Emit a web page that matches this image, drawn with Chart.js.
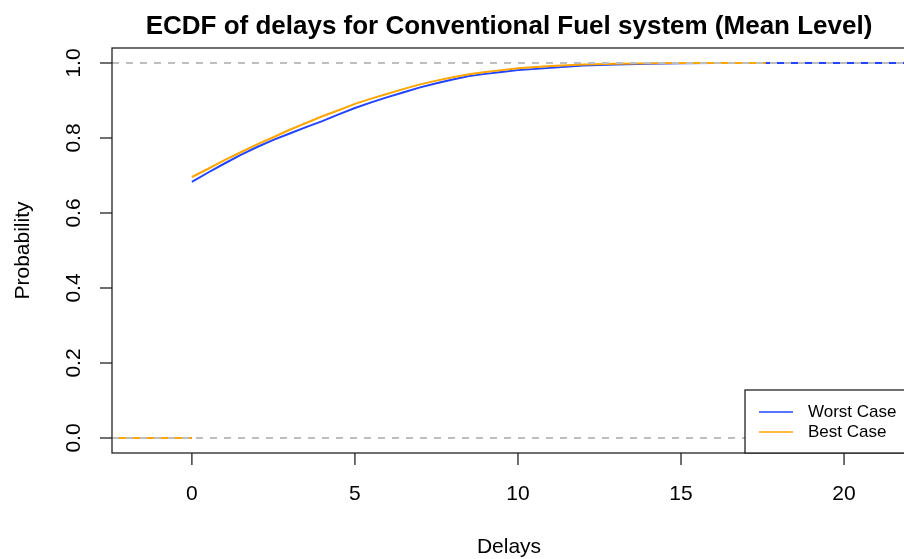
<!DOCTYPE html>
<html>
<head>
<meta charset="utf-8">
<script src="https://cdn.jsdelivr.net/npm/chart.js@4/dist/chart.umd.min.js"></script>
<style>
html, body { margin: 0; padding: 0; background: #fff; overflow: hidden; }
#wrap { width: 960px; height: 559px; }
</style>
</head>
<body>
<div id="wrap"><canvas id="ecdfChart" width="960" height="559"></canvas></div>
<script>
// ECDF values
var delays    = [0, 0.5, 1, 1.5, 2, 2.5, 3, 3.5, 4, 4.5, 5, 5.5, 6, 6.5, 7, 7.5, 8, 8.5, 9, 9.5, 10, 11, 12, 13, 14, 15, 16];
var worstCase = [0.683, 0.708, 0.732, 0.755, 0.776, 0.795, 0.812, 0.829, 0.845, 0.863, 0.880, 0.895, 0.909, 0.922, 0.935, 0.946, 0.956, 0.965, 0.971, 0.976, 0.981, 0.987, 0.993, 0.996, 0.998, 0.999, 1.0];
var bestCase  = [0.696, 0.718, 0.741, 0.762, 0.783, 0.802, 0.822, 0.840, 0.858, 0.874, 0.891, 0.905, 0.918, 0.931, 0.943, 0.953, 0.962, 0.970, 0.976, 0.981, 0.986, 0.992, 0.996, 0.998, 0.999, 1.0, 1.0];
var worstEnd = 21.9;
var bestEnd = 17.6;

var xTicks = [0, 5, 10, 15, 20];
var yTicks = [0, 0.2, 0.4, 0.6, 0.8, 1.0];
var refLevels = [0, 1];
var xRange = [-2.45, 21.9];
var yRange = [-0.04, 1.04];

var blue = '#2244ff';
var orange = '#ffa500';
var font = '"Liberation Sans", Arial, Helvetica, sans-serif';

function ecdfPoints(probs, lastX) {
    var pts = [{x: xRange[0], y: 0}, {x: 0, y: 0}, {x: 0, y: null}];
    for (var i = 0; i < delays.length; i++) {
        pts.push({x: delays[i], y: probs[i]});
    }
    pts.push({x: lastX, y: 1});
    return pts;
}

// R style box, axes, title, abline and legend
var rStyle = {
    id: 'rStyle',
    afterDatasetsDraw: function(chart) {
        var ctx = chart.ctx;
        var a = chart.chartArea;
        var xs = chart.scales.x;
        var ys = chart.scales.y;
        ctx.save();

        // dashed gray reference lines
        ctx.strokeStyle = '#bebebe';
        ctx.lineWidth = 2;
        ctx.setLineDash([7, 7]);
        refLevels.forEach(function(v) {
            var py = Math.round(ys.getPixelForValue(v));
            ctx.beginPath();
            ctx.moveTo(a.left, py);
            ctx.lineTo(a.right, py);
            ctx.stroke();
        });
        ctx.setLineDash([]);

        // box
        ctx.strokeStyle = '#222';
        ctx.lineWidth = 1.3;
        ctx.strokeRect(a.left, a.top, a.right - a.left, a.bottom - a.top);

        ctx.fillStyle = '#000';
        // x ticks
        ctx.font = '21px ' + font;
        ctx.textAlign = 'center';
        ctx.textBaseline = 'middle';
        xTicks.forEach(function(v) {
            var px = xs.getPixelForValue(v);
            ctx.beginPath();
            ctx.moveTo(px, a.bottom);
            ctx.lineTo(px, a.bottom + 12);
            ctx.stroke();
            ctx.fillText(String(v), px, 494);
        });
        // y ticks, labels parallel to axis
        yTicks.forEach(function(v) {
            var py = ys.getPixelForValue(v);
            ctx.beginPath();
            ctx.moveTo(a.left, py);
            ctx.lineTo(a.left - 12, py);
            ctx.stroke();
            ctx.save();
            ctx.translate(74, py);
            ctx.rotate(-Math.PI / 2);
            ctx.fillText(v.toFixed(1), 0, 0);
            ctx.restore();
        });

        // axis titles
        var cx = (a.left + a.right) / 2;
        ctx.fillText('Delays', cx, 547);
        ctx.save();
        ctx.translate(23, (a.top + a.bottom) / 2);
        ctx.rotate(-Math.PI / 2);
        ctx.fillText('Probability', 0, 0);
        ctx.restore();

        // title
        ctx.font = 'bold 26px ' + font;
        ctx.textBaseline = 'alphabetic';
        ctx.fillText('ECDF of delays for Conventional Fuel system (Mean Level)', cx, 34);

        // legend bottom right
        var lx = 745, ly = 390;
        ctx.fillStyle = '#fff';
        ctx.fillRect(lx, ly, a.right - lx, a.bottom - ly);
        ctx.strokeStyle = '#222';
        ctx.lineWidth = 1.3;
        ctx.strokeRect(lx, ly, a.right - lx, a.bottom - ly);
        ctx.font = '17px ' + font;
        ctx.textAlign = 'left';
        ctx.textBaseline = 'middle';
        chart.data.datasets.forEach(function(ds, i) {
            var y = 412 + i * 20;
            ctx.strokeStyle = ds.borderColor;
            ctx.lineWidth = 1.5;
            ctx.beginPath();
            ctx.moveTo(759, y);
            ctx.lineTo(793, y);
            ctx.stroke();
            ctx.fillStyle = '#000';
            ctx.fillText(ds.label, 808, y);
        });
        ctx.restore();
    }
};

var ch = document.getElementById('ecdfChart').getContext('2d');
var ecdfChart = new Chart(ch, {
    type: 'line',
    data: {
        datasets: [{
            label: 'Worst Case',
            data: ecdfPoints(worstCase, worstEnd),
            borderColor: blue,
            backgroundColor: blue,
            borderWidth: 2,
            pointRadius: 0,
            tension: 0,
            order: 2
        },
        {
            label: 'Best Case',
            data: ecdfPoints(bestCase, bestEnd),
            borderColor: orange,
            backgroundColor: orange,
            borderWidth: 2,
            pointRadius: 0,
            tension: 0,
            order: 1
        }]
    },
    options: {
        responsive: false,
        animation: false,
        layout: {
            padding: { left: 112, top: 48, right: 54, bottom: 106 }
        },
        scales: {
            x: { type: 'linear', min: xRange[0], max: xRange[1], display: false },
            y: { type: 'linear', min: yRange[0], max: yRange[1], display: false }
        },
        plugins: {
            legend: { display: false },
            title: { display: false },
            tooltip: { enabled: false }
        }
    },
    plugins: [rStyle]
});
</script>
</body>
</html>
